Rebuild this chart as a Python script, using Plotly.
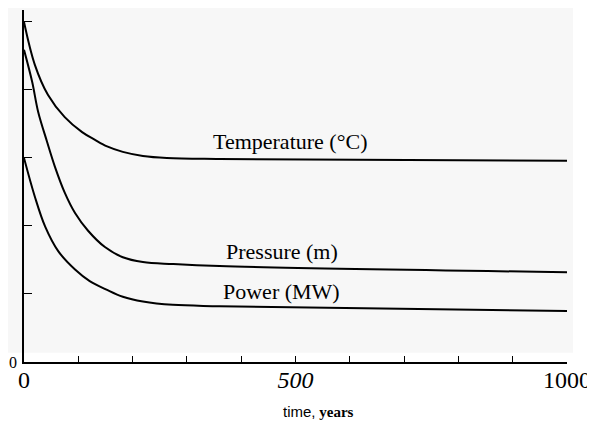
"""
Decay of temperature, pressure and power over time.
"""
import plotly.graph_objects as go

# values
temp_years = [0, 20, 44, 75, 107, 130, 153, 182, 219, 263, 360, 1000]
temperature = [5.0, 4.37, 3.93, 3.60, 3.38, 3.27, 3.17, 3.09, 3.03, 3.0, 2.985, 2.96]

pres_years = [0, 15, 26, 42, 57, 75, 94, 118, 149, 182, 219, 274, 360, 1000]
pressure = [4.59, 4.12, 3.68, 3.25, 2.87, 2.49, 2.19, 1.93, 1.69, 1.54, 1.47, 1.44, 1.41, 1.32]

pow_years = [0, 20, 39, 63, 94, 121, 153, 182, 219, 274, 360, 1000]
power = [3.0, 2.43, 1.99, 1.63, 1.36, 1.19, 1.06, 0.96, 0.89, 0.84, 0.82, 0.75]

SERIF = "Liberation Serif, Times New Roman, serif"

x_ticks = list(range(0, 1001, 100))
x_ticktext = ["0", "", "", "", "",
              f'<span style="font-family:{SERIF}"><i>500</i></span>',
              "", "", "", "", "1000"]
y_ticks = [0, 1, 2, 3, 4, 5]
y_ticktext = ["0", "", "", "", "", ""]

labels = [
    ("Temperature (°C)", 489, 3.24),
    ("Pressure (m)", 476, 1.62),
    ("Power (MW)", 474, 1.03),
]

fig = go.Figure()
for xs, ys, name in [
    (temp_years, temperature, "Temperature"),
    (pres_years, pressure, "Pressure"),
    (pow_years, power, "Power"),
]:
    fig.add_trace(
        go.Scatter(
            x=xs,
            y=ys,
            mode="lines",
            name=name,
            line={"color": "black", "width": 2, "shape": "spline", "smoothing": 1},
            showlegend=False,
        )
    )

for text, x, y in labels:
    fig.add_annotation(
        text=text, x=x, y=y, xref="x", yref="y", showarrow=False,
        font={"family": SERIF, "size": 22, "color": "black"},
    )

fig.add_annotation(
    text='<span style="font-family:Liberation Sans, Arial, sans-serif">time,</span> <b>years</b>',
    x=542, y=-0.142, xref="x", yref="paper", yanchor="middle", showarrow=False,
    font={"family": SERIF, "size": 15, "color": "black"},
)

# light grey scanned-page background behind the plot
fig.add_shape(
    type="rect", xref="paper", yref="paper",
    x0=-0.031, x1=1.011, y0=0.026, y1=1.02,
    fillcolor="#f7f7f7", line={"width": 0}, layer="below",
)

fig.update_xaxes(
    range=[0, 1000],
    tickvals=x_ticks,
    ticktext=x_ticktext,
    ticks="inside",
    ticklen=6,
    tickcolor="black",
    showline=True,
    linecolor="black",
    linewidth=1.5,
    showgrid=False,
    zeroline=False,
    automargin=False,
    ticklabelstandoff=-5,
    tickfont={"family": SERIF, "size": 24, "color": "black"},
)
fig.update_yaxes(
    range=[0, 5.176],
    tickvals=y_ticks,
    ticktext=y_ticktext,
    ticks="inside",
    ticklen=8,
    tickcolor="black",
    showline=True,
    linecolor="black",
    linewidth=1.5,
    showgrid=False,
    zeroline=False,
    automargin=False,
    ticklabelstandoff=2,
    tickfont={"family": SERIF, "size": 16, "color": "black"},
)
# the page body adds 8px around the figure, so margins are shifted to compensate
fig.update_layout(
    width=595,
    height=428,
    margin={"l": 16, "r": 36, "t": 2, "b": 74},
    paper_bgcolor="white",
    plot_bgcolor="rgba(0,0,0,0)",
)

fig.write_html("out.html")
